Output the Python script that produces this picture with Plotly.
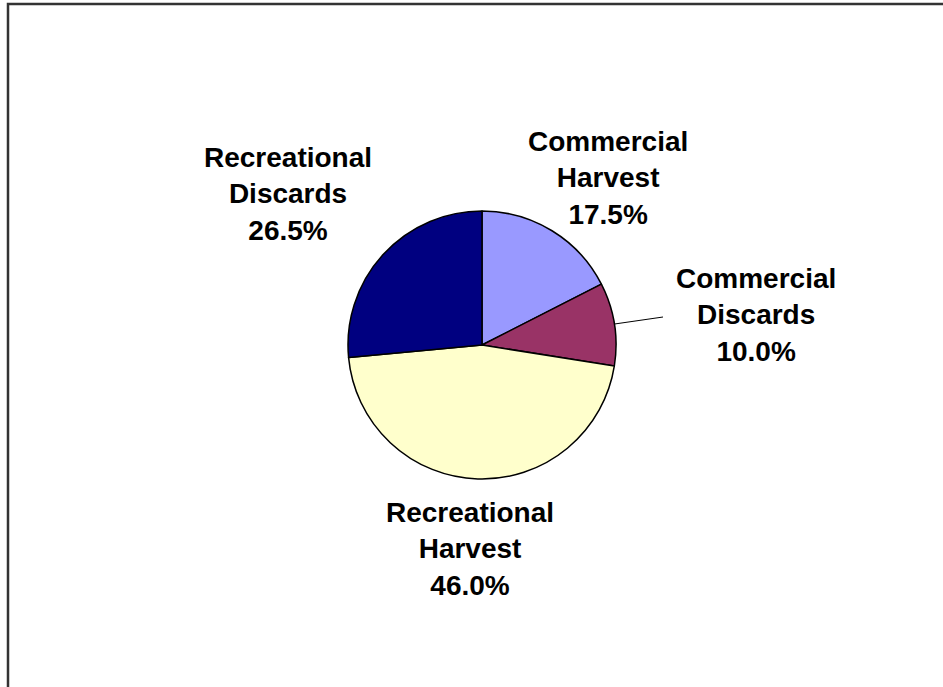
import math
import plotly.graph_objects as go

# Share of total removals by sector
categories = ["Commercial Harvest", "Commercial Discards",
              "Recreational Harvest", "Recreational Discards"]
shares = [17.5, 10.0, 46.0, 26.5]
slice_colors = ["#9999FF", "#993366", "#FFFFCC", "#000080"]

W, H = 943, 687
CX, CY, R = 482, 345, 134  # pie centre and radius in pixels

# label block centres (pixels, middle line)
label_pos = {
    "Commercial Harvest": (608, 178),
    "Commercial Discards": (756, 315),
    "Recreational Harvest": (470, 549),
    "Recreational Discards": (288, 194),
}


def px(x):
    return x / W


def py(y):
    return 1 - y / H


fig = go.Figure(go.Pie(
    labels=categories,
    values=shares,
    sort=False,
    direction="clockwise",
    rotation=0,
    marker=dict(colors=slice_colors, line=dict(color="#000000", width=1.5)),
    textinfo="none",
    hoverinfo="label+percent",
    showlegend=False,
    domain=dict(x=[px(CX - R), px(CX + R)], y=[py(CY + R), py(CY - R)]),
))

annotations = []
for name, val in zip(categories, shares):
    words = name.split(" ")
    text = "<br>".join(f"<b>{w}</b>" for w in words + [f"{val:.1f}%"])
    x, y = label_pos[name]
    annotations.append(dict(
        x=px(x), y=py(y), xref="paper", yref="paper",
        text=text, showarrow=False, align="center",
        xanchor="center", yanchor="middle",
        font=dict(family="Arial, Liberation Sans, sans-serif", size=28,
                  color="#000000"),
    ))

# leader line from the Commercial Discards slice to its label
total = sum(shares)
start = sum(shares[:1])
mid = (start + shares[1] / 2) / total * 2 * math.pi
sx, sy = CX + R * math.sin(mid), CY - R * math.cos(mid)
shapes = [
    dict(type="line", xref="paper", yref="paper",
         x0=px(sx), y0=py(sy), x1=px(663), y1=py(317),
         line=dict(color="#000000", width=1)),
    # chart frame
    dict(type="path", xref="paper", yref="paper",
         path=f"M {px(8)},{py(700)} L {px(8)},{py(4)} L {px(960)},{py(4)}",
         line=dict(color="#333333", width=2.5)),
]

fig.update_layout(
    width=W, height=H,
    margin=dict(l=0, r=0, t=0, b=0),
    paper_bgcolor="#FFFFFF",
    plot_bgcolor="#FFFFFF",
    annotations=annotations,
    shapes=shapes,
)

fig.write_html("out.html")
